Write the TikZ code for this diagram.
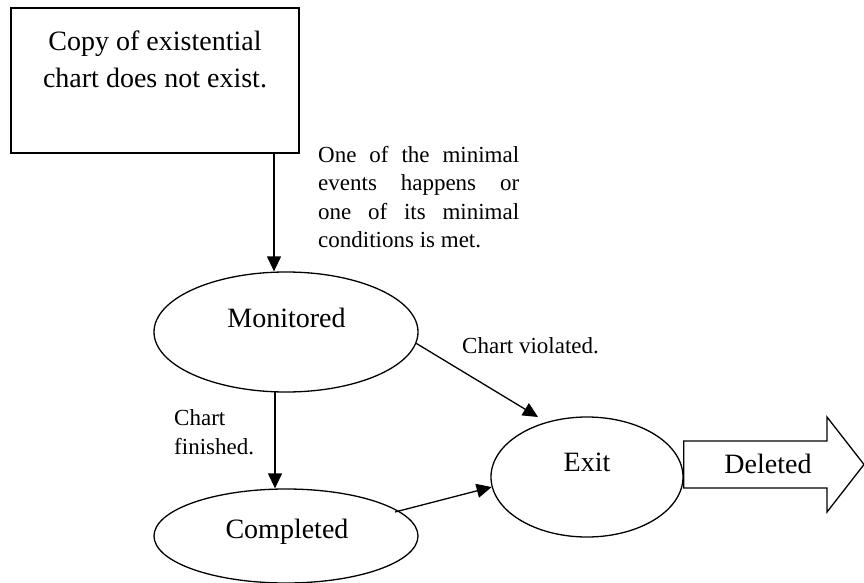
\documentclass[tikz,border=0pt]{standalone}
\usepackage{fontspec}
\setmainfont{Liberation Serif}
\usetikzlibrary{shapes.geometric,arrows.meta}

\tikzset{
  outline/.style={draw=black, line width=1.3pt},
  conn/.style={draw=black, line width=1.3pt, -{Triangle[length=15pt,width=14pt]}},
  stateoval/.style={outline, ellipse, inner sep=0pt},
  bigtext/.style={inner sep=0pt, font=\fontsize{28}{37}\selectfont},
  smalltext/.style={inner sep=0pt, font=\fontsize{23}{28.5}\selectfont},
}

\begin{document}
\begin{tikzpicture}[x=1pt,y=-1pt]
\useasboundingbox (0,0) rectangle (864,583);

% initial condition box
\node[outline, rectangle, minimum width=288pt, minimum height=145pt, inner sep=0pt] (start) at (155,80.5) {};
\node[bigtext, anchor=base] (startl1) at (155,51) {Copy of existential};
\node[bigtext, anchor=base] (startl2) at (155,88) {chart does not exist.};

% states
\node[stateoval, minimum width=264pt, minimum height=120pt] (mon) at (286,332) {};
\node[bigtext, anchor=base] (montext) at (286.5,327) {Monitored};

\node[stateoval, minimum width=264pt, minimum height=94pt] (comp) at (286,536) {};
\node[bigtext, anchor=base] (comptext) at (287,538) {Completed};

\node[stateoval, minimum width=192pt, minimum height=120pt] (exit) at (587,477) {};
\node[bigtext, anchor=base] (exittext) at (587,471) {Exit};

% outgoing block arrow
\draw[outline] (exit.east |- 0,441) -- (827,441) -- (827,417) -- (864,464.5)
  -- (827,512) -- (827,488) -- (exit.east |- 0,488) -- cycle;
\node[bigtext, anchor=base] (deltext) at (768,473) {Deleted};

% transitions
\coordinate (startout) at (274,153);
\draw[conn] (startout) -- (mon.north -| startout);
\coordinate (monout) at (275,392);
\draw[conn] (monout) -- (comp.north -| monout);
\draw[conn] (mon.-5) -- (538,417);
\coordinate (compout) at (395,512);
\draw[conn] (compout) -- (exit.186);

% transition labels
\node[smalltext, anchor=base west, text width=201pt, align=justify] (minlabel) at (318,162)
  {\hyphenpenalty=10000\relax One of the minimal\linebreak events happens or\linebreak
   one of its minimal\linebreak conditions is met.};
\node[smalltext, anchor=base west, align=left] (finlabel) at (174,454) {Chart\\finished.};
\node[smalltext, anchor=base west] (violabel) at (462,353) {Chart violated.};
\end{tikzpicture}
\end{document}
